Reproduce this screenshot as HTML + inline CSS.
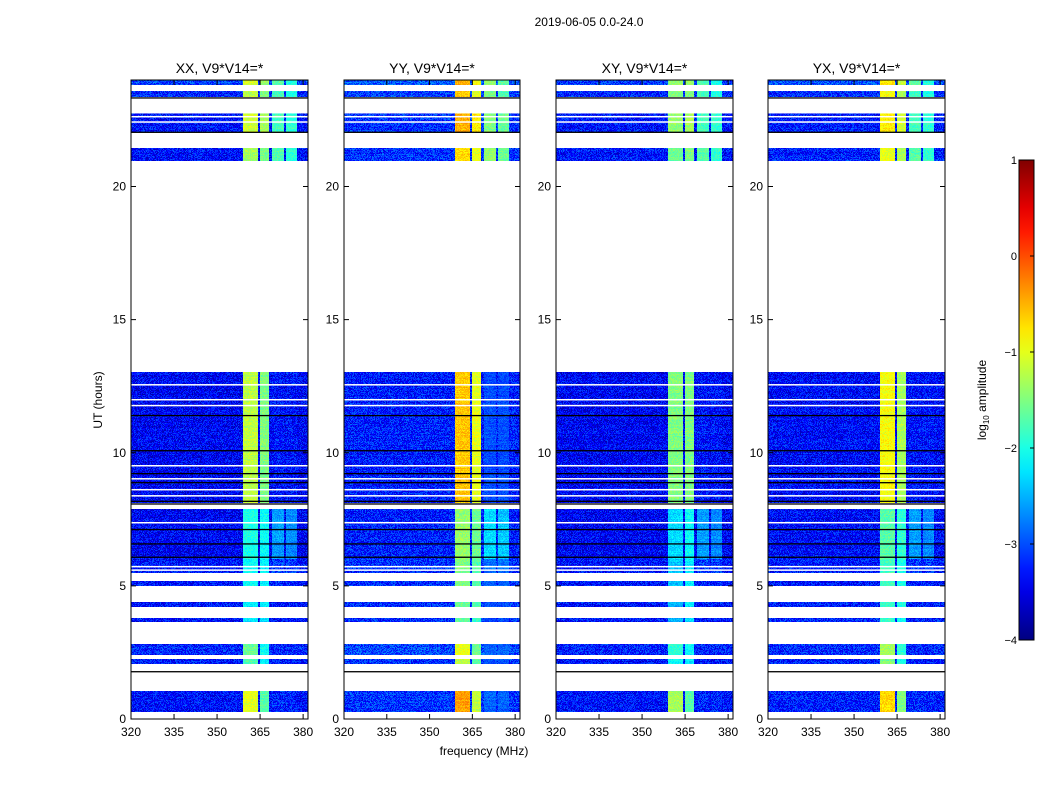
<!DOCTYPE html>
<html><head><meta charset="utf-8">
<style>
body{margin:0;background:#fff;width:1050px;height:800px;overflow:hidden;font-family:"Liberation Sans",sans-serif}
#wrap{position:relative;width:1050px;height:800px}
canvas{position:absolute;image-rendering:pixelated}
svg{position:absolute;left:0;top:0}
</style></head><body>
<div id="wrap">
<canvas id="c0" width="177" height="639" style="left:131px;top:80px"></canvas>
<canvas id="c1" width="176" height="639" style="left:344px;top:80px"></canvas>
<canvas id="c2" width="177" height="639" style="left:556px;top:80px"></canvas>
<canvas id="c3" width="177" height="639" style="left:768px;top:80px"></canvas>
<svg id="ov" width="1050" height="800"></svg>
</div>
<script>
// ---- data ----
const panelTitles = ["XX, V9*V14=*","YY, V9*V14=*","XY, V9*V14=*","YX, V9*V14=*"];
const yTicks = [0,5,10,15,20];
const xTicks = [320,335,350,365,380];
const cbTicks = [1,0,-1,-2,-3,-4];
// segment: start hour, end hour
const segStart = [23.8,23.35,22.05,20.96,8.1,6.0,5.5,5.0,4.2,3.65,2.4,2.07,0.26];
const segEnd   = [24.0,23.6,22.8,21.45,13.03,7.9,6.0,5.2,4.4,3.8,2.8,2.25,1.05];
// log10 amplitude levels per segment: background, band1..band4
const segBg = [-3.1,-3.2,-3.3,-3.3,-3.4,-3.4,-3.3,-3.3,-3.3,-3.3,-3.2,-3.3,-3.3];
const segB1 = [-1.1,-1.2,-1.1,-1.3,-1.2,-2.0,-2.1,-2.1,-2.2,-2.2,-1.6,-1.8,-1.0];
const segB2 = [-1.4,-1.5,-1.3,-1.5,-1.5,-2.1,-2.2,-2.2,-2.2,-2.3,-2.1,-2.2,-1.7];
const segB3 = [-1.7,-1.8,-1.8,-1.7,-3.3,-2.6,-3.1,-3.2,-3.3,-3.3,-3.2,-3.3,-3.2];
const segB4 = [-2.0,-2.0,-1.9,-1.9,-3.3,-2.7,-3.1,-3.2,-3.3,-3.3,-3.2,-3.3,-3.2];
// per-panel offsets (bg, band1, band2, band3, band4)
const panelBgOff = [0,0.15,0,0.05];
const panelB1Off = [0,0.6,-0.3,0.3];
const panelB2Off = [0,0.5,0,0.2];
const panelB3Off = [0,0.3,0,0];
const panelB4Off = [0,0.3,0,0];
// band frequency edges (MHz)
const bandLo = [359.0,364.8,369.2,374.0];
const bandHi = [364.2,368.2,373.2,378.0];
const whiteLines = [22.8,22.65,22.45,12.58,12.02,11.8,9.54,9.05,8.64,8.41,7.4,5.75,5.62];
const blackLines = [23.35,22.06,11.42,10.1,9.24,8.9,8.2,8.1,7.14,6.6,6.1,1.8];
// ---- scales ----
const F0=320,F1=381.7,H0=0,H1=24;
function jet(v){let t=(v+4)/5;t=Math.max(0,Math.min(1,t));
 const c=x=>Math.max(0,Math.min(1,x));
 return [c(1.5-Math.abs(4*t-3))*255,c(1.5-Math.abs(4*t-2))*255,c(1.5-Math.abs(4*t-1))*255];}
function hash(x,y){let h=(x*374761393+y*668265263)^0x5bd1e995;h=(h^(h>>>13))*1274126177;h=h^(h>>>16);return ((h>>>0)%10000)/10000;}
for(let p=0;p<4;p++){
 const cv=document.getElementById('c'+p),W=cv.width,H=cv.height,ctx=cv.getContext('2d');
 const img=ctx.createImageData(W,H),d=img.data;
 const hourOf=y=>H1-(y+0.5)/H*(H1-H0), yOf=h=>(H1-h)/(H1-H0)*H;
 for(let y=0;y<H;y++){const h=hourOf(y);let s=-1;
  for(let i=0;i<segStart.length;i++) if(h>=segStart[i]&&h<segEnd[i]) s=i;
  const rowN=(hash(7,y+p*1000)-0.5)*0.15;
  for(let x=0;x<W;x++){const k=(y*W+x)*4;
   if(s<0){d[k]=d[k+1]=d[k+2]=255;d[k+3]=255;continue;}
   const f=F0+(x+0.5)/W*(F1-F0);
   let v=segBg[s]+panelBgOff[p]+(hash(x,y+p*1000)-0.5)*0.75+rowN;
   const bl=[segB1[s]+panelB1Off[p],segB2[s]+panelB2Off[p],segB3[s]+panelB3Off[p],segB4[s]+panelB4Off[p]];
   for(let b=0;b<4;b++) if(f>=bandLo[b]&&f<bandHi[b]) v=bl[b]+(hash(x+500,y+p*1000)-0.5)*(bl[b]<-3?0.75:0.35)+rowN;
   const c=jet(v);d[k]=c[0];d[k+1]=c[1];d[k+2]=c[2];d[k+3]=255;}}
 ctx.putImageData(img,0,0);
 ctx.fillStyle='#fff';whiteLines.forEach(h=>ctx.fillRect(0,yOf(h),W,1.5));
 ctx.fillStyle='#000';blackLines.forEach(h=>ctx.fillRect(0,yOf(h),W,1.3));
}
// ---- axes overlay ----
const NS='http://www.w3.org/2000/svg',ov=document.getElementById('ov');
function el(t,a,txt){const e=document.createElementNS(NS,t);for(const k in a)e.setAttribute(k,a[k]);if(txt!==undefined)e.textContent=txt;ov.appendChild(e);return e;}
const panelL=[131,344,556,768],panelR=[308,520,733,945],TOP=80,BOT=719;
for(let p=0;p<4;p++){const L=panelL[p],R=panelR[p];
 const xs=f=>L+(f-F0)/(F1-F0)*(R-L), ys=h=>BOT-(h-H0)/(H1-H0)*(BOT-TOP);
 const fr=el('rect',{x:L,y:TOP,width:R-L,height:BOT-TOP,fill:'none',stroke:'#000','stroke-width':1});
 
 const t=el('text',{x:(L+R)/2,y:73,'text-anchor':'middle','font-size':14},panelTitles[p]);
 
 yTicks.forEach(v=>{const y=ys(v);
  el('line',{x1:L,x2:L+5,y1:y,y2:y,stroke:'#000'});el('line',{x1:R,x2:R-5,y1:y,y2:y,stroke:'#000'});
  const tl=el('text',{x:L-5,y:y+4,'text-anchor':'end','font-size':12},String(v));
  });
 xTicks.forEach(v=>{const x=xs(v);
  el('line',{x1:x,x2:x,y1:BOT,y2:BOT-5,stroke:'#000'});el('line',{x1:x,x2:x,y1:TOP,y2:TOP+5,stroke:'#000'});
  const tl=el('text',{x:x,y:736,'text-anchor':'middle','font-size':12},String(v));
  });
}
let e=el('text',{x:589,y:26,'text-anchor':'middle','font-size':12},'2019-06-05 0.0-24.0');

e=el('text',{x:484,y:755,'text-anchor':'middle','font-size':12},'frequency (MHz)');

e=el('text',{x:102,y:400,'text-anchor':'middle','font-size':12,transform:'rotate(-90 102 400)'},'UT (hours)');

// colorbar
const defs=el('defs',{}),g=document.createElementNS(NS,'linearGradient');
g.setAttribute('id','jg');g.setAttribute('x1','0');g.setAttribute('y1','1');g.setAttribute('x2','0');g.setAttribute('y2','0');
for(let i=0;i<=20;i++){const v=-4+5*i/20,c=jet(v),s=document.createElementNS(NS,'stop');
 s.setAttribute('offset',i/20);s.setAttribute('stop-color',`rgb(${c.map(Math.round).join(',')})`);g.appendChild(s);}
defs.appendChild(g);
const CBT=160,CBB=640,CBL=1019,CBR=1034;
e=el('rect',{x:CBL,y:CBT,width:CBR-CBL,height:CBB-CBT,fill:'url(#jg)',stroke:'#000'});

cbTicks.forEach(v=>{const y=CBB-(v+4)/5*(CBB-CBT);
 el('line',{x1:CBR-4,x2:CBR,y1:y,y2:y,stroke:'#000'});
 const tl=el('text',{x:1017,y:y+4,'text-anchor':'end','font-size':11},v<0?'\u2212'+(-v):String(v));
 });
e=el('text',{x:986,y:400,'text-anchor':'middle','font-size':12,transform:'rotate(-90 986 400)'});
e.innerHTML='log<tspan font-size="8" dy="3">10</tspan><tspan dy="-3"> amplitude</tspan>';

</script>
</body></html>
